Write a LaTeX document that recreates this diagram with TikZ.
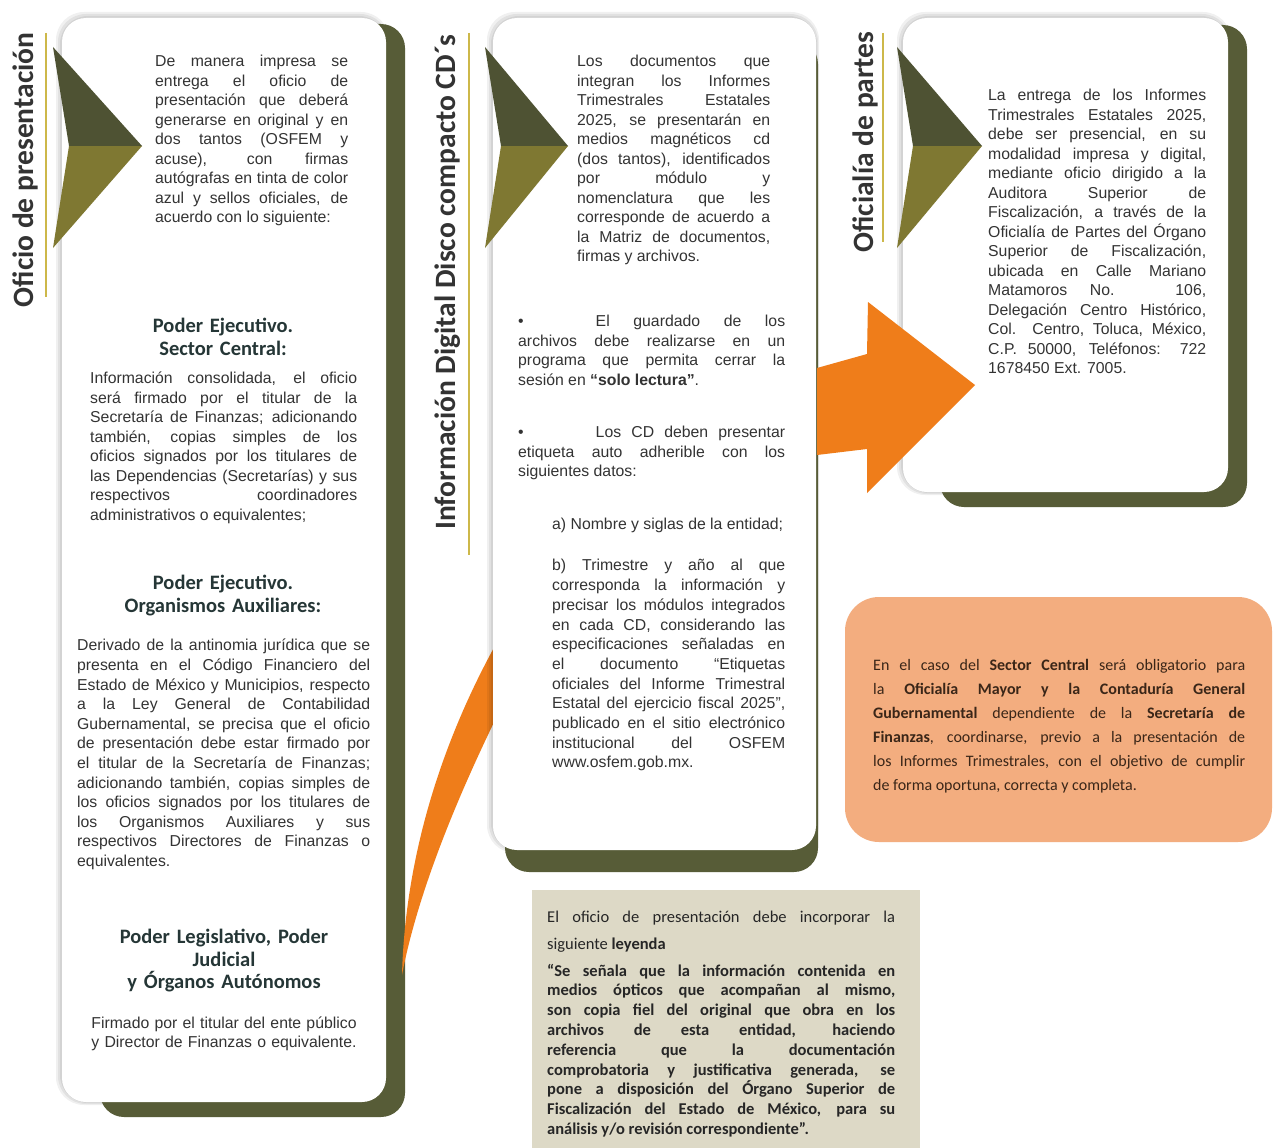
\documentclass[tikz,border=0pt]{standalone}
\usepackage{fontspec}
\setmainfont{Liberation Sans}
\newfontfamily\headfont{Carlito}
\usetikzlibrary{positioning}
\definecolor{o1}{HTML}{4E5233}
\definecolor{o2}{HTML}{7F7832}
\definecolor{o3}{HTML}{575C37}
\definecolor{y1}{HTML}{CDB84A}
\definecolor{or}{HTML}{EF7D1A}
\definecolor{sa}{HTML}{F3AD7F}
\definecolor{tn}{HTML}{DDD9C6}
\definecolor{g}{HTML}{333333}
\definecolor{hd}{HTML}{253636}
\definecolor{br}{HTML}{3A2618}
\tolerance=10000
\hyphenpenalty=10000
\hbadness=10000

\begin{document}
\begin{tikzpicture}[x=1pt, y=-1pt,
	cardtext/.style={font=\fontsize{15.8}{19.5}\selectfont, text=g, align=justify,
		inner sep=0pt, anchor=north west, execute at begin node=\strut},
	cardhead/.style={font=\headfont\bfseries\fontsize{20.5}{22.5}\selectfont, text=hd,
		align=center, inner sep=0pt, anchor=north, text width=300, execute at begin node=\strut},
	sidetitle/.style={font=\headfont\bfseries\fontsize{29.5}{32}\selectfont, text=g,
		rotate=90, inner sep=0pt, anchor=base},
	halo/.style={fill=black, opacity=0.06, rounded corners=28},
	cardback/.style={fill=o3, rounded corners=24},
	card/.style={fill=white, rounded corners=24},
	goldline/.style={y1, line width=1.6pt},
]
			\useasboundingbox[fill=white] (0,0) rectangle (1275,1148);

			% Draw left card (shadow, back, face)
			\foreach \d in {2,4,6} {
					\fill[halo] (62-\d,18-\d) rectangle (386+\d/2,1102+\d/2);
				}
			\fill[cardback] (100,24) rectangle (405,1117);
			\fill[card] (62,18) rectangle (386,1102);

			% Curved orange band between cards
			\fill[or] (402,975) .. controls (405,860) and (440,740) .. (505,628)
				-- (505,700) .. controls (470,770) and (420,880) .. (402,975) -- cycle;

			% Draw middle card
			\foreach \d in {2,4,6} {
					\fill[halo] (493-\d,18-\d) rectangle (816+\d/2,850+\d/2);
				}
			\fill[cardback] (505,40) rectangle (818,872);
			\fill[card] (493,18) rectangle (816,850);

			% Draw right card
			\foreach \d in {2,4,6} {
					\fill[halo] (903-\d,18-\d) rectangle (1228+\d/2,492+\d/2);
				}
			\fill[cardback] (940,25) rectangle (1247,507);
			\fill[card] (903,18) rectangle (1228,492);

			% Big orange arrow
			\fill[or] (817,368) -- (867,354) -- (868,302) -- (975,385) -- (867,493)
				-- (867,449) -- (817,455) -- cycle;

			% Chevron markers
			\foreach \x/\t in {53/89, 485/83, 897/85} {
					\fill[o1] (\x,47) -- (\x+\t,146) -- (\x+16,146) -- cycle;
					\fill[o2] (\x+16,146) -- (\x+\t,146) -- (\x,248) -- cycle;
				}

			% Gold rules beside the titles
			\draw[goldline] (46,33) -- (46,297);
			\draw[goldline] (469,33) -- (469,555);
			\draw[goldline] (883,33) -- (883,242);

			% Side titles
			\node[sidetitle] (ofTitle) at (33,170) {Oficio de presentación};
			\node[sidetitle] (cdTitle) at (455,282) {Información Digital Disco compacto CD´s};
			\node[sidetitle] (opTitle) at (873,142) {Oficialía de partes};

			% Left card texts
			\node[cardtext, text width=193] (ofIntro) at (155,53) {De manera impresa se\linebreak
				entrega el oficio de\linebreak presentación que deberá\linebreak
				generarse en original y en\linebreak dos tantos (OSFEM y\linebreak
				acuse), con firmas\linebreak autógrafas en tinta de color\linebreak
				azul y sellos oficiales, de\linebreak acuerdo con lo siguiente:};

			\node[cardhead] (scHead) at (223,317) {Poder Ejecutivo.\\ Sector Central:};
			\node[cardtext, text width=267] (scText) at (90,370) {Información consolidada, el oficio\linebreak
				será firmado por el titular de la\linebreak Secretaría de Finanzas; adicionando\linebreak
				también, copias simples de los\linebreak oficios signados por los titulares de\linebreak
				las Dependencias (Secretarías) y sus\linebreak respectivos coordinadores\linebreak
				administrativos o equivalentes;};

			\node[cardhead, font=\headfont\bfseries\fontsize{20.5}{23}\selectfont] (oaHead) at (223,573)
				{Poder Ejecutivo.\\ Organismos Auxiliares:};
			\node[cardtext, text width=293, font=\fontsize{15.8}{19.6}\selectfont] (oaText) at (77,637)
				{Derivado de la antinomia jurídica que se\linebreak
				presenta en el Código Financiero del\linebreak Estado de México y Municipios, respecto\linebreak
				a la Ley General de Contabilidad\linebreak Gubernamental, se precisa que el oficio\linebreak
				de presentación debe estar firmado por\linebreak el titular de la Secretaría de Finanzas;\linebreak
				adicionando también, copias simples de\linebreak los oficios signados por los titulares de\linebreak
				los Organismos Auxiliares y sus\linebreak respectivos Directores de Finanzas o\linebreak
				equivalentes.};

			\node[cardhead] (plHead) at (224,928) {Poder Legislativo, Poder\\ Judicial\\ y Órganos Autónomos};
			\node[cardtext, align=center, anchor=north, text width=300, font=\fontsize{15.8}{19}\selectfont]
				(plText) at (224,1015) {Firmado por el titular del ente público\\ y Director de Finanzas o equivalente.};

			% Middle card texts
			\node[cardtext, text width=193] (cdIntro) at (577,53) {Los documentos que\linebreak
				integran los Informes\linebreak Trimestrales Estatales\linebreak
				2025, se presentarán en\linebreak medios magnéticos cd\linebreak
				(dos tantos), identificados\linebreak por módulo y\linebreak
				nomenclatura que les\linebreak corresponde de acuerdo a\linebreak
				la Matriz de documentos,\linebreak firmas y archivos.};

			\node[cardtext, text width=267] (cdSave) at (518,313) {•\hspace{72pt}El guardado de los\linebreak
				archivos debe realizarse en un\linebreak programa que permita cerrar la\linebreak
				sesión en \textbf{“solo lectura”}.};
			\node[cardtext, text width=267] (cdLabel) at (518,424) {•\hspace{72pt}Los CD deben presentar\linebreak
				etiqueta auto adherible con los\linebreak siguientes datos:};

			\node[cardtext, text width=233] (cdA) at (552,516) {a) Nombre y siglas de la entidad;};
			\node[cardtext, text width=233, font=\fontsize{15.8}{19.7}\selectfont] (cdB) at (552,557)
				{b) Trimestre y año al que\linebreak
				corresponda la información y\linebreak precisar los módulos integrados\linebreak
				en cada CD, considerando las\linebreak especificaciones señaladas en\linebreak
				el documento “Etiquetas\linebreak oficiales del Informe Trimestral\linebreak
				Estatal del ejercicio fiscal 2025”,\linebreak publicado en el sitio electrónico\linebreak
				institucional del OSFEM\linebreak www.osfem.gob.mx.};

			% Right card text
			\node[cardtext, text width=218] (opText) at (988,87) {La entrega de los Informes\linebreak
				Trimestrales Estatales 2025,\linebreak debe ser presencial, en su\linebreak
				modalidad impresa y digital,\linebreak mediante oficio dirigido a la\linebreak
				Auditora Superior de\linebreak Fiscalización, a través de la\linebreak
				Oficialía de Partes del Órgano\linebreak Superior de Fiscalización,\linebreak
				ubicada en Calle Mariano\linebreak Matamoros No. 106,\linebreak
				Delegación Centro Histórico,\linebreak Col. Centro, Toluca, México,\linebreak
				C.P. 50000, Teléfonos: 722\linebreak 1678450 Ext. 7005.};

			% Salmon note
			\fill[sa, rounded corners=34] (845,597) rectangle (1272,842);
			\node[cardtext, text=br, text width=372, font=\headfont\fontsize{16}{24}\selectfont]
				(scNote) at (873,653) {En el caso del \textbf{Sector Central} será obligatorio para\linebreak
				la \textbf{Oficialía Mayor y la Contaduría General}\linebreak
				\textbf{Gubernamental} dependiente de la \textbf{Secretaría de}\linebreak
				\textbf{Finanzas}, coordinarse, previo a la presentación de\linebreak
				los Informes Trimestrales, con el objetivo de cumplir\linebreak
				de forma oportuna, correcta y completa.};

			% Legend box
			\fill[tn] (532,890) rectangle (920,1148);
			\node[cardtext, text=black!85, text width=348, font=\headfont\fontsize{16.5}{27}\selectfont]
				(leyIntro) at (547,903) {El oficio de presentación debe incorporar la\linebreak
				siguiente \textbf{leyenda}};
			\node[cardtext, text=black!85, text width=348, font=\headfont\bfseries\fontsize{16.5}{19.8}\selectfont]
				(leyText) at (547,962) {“Se señala que la información contenida en\linebreak
				medios ópticos que acompañan al mismo,\linebreak
				son copia fiel del original que obra en los\linebreak
				archivos de esta entidad, haciendo\linebreak
				referencia que la documentación\linebreak
				comprobatoria y justificativa generada, se\linebreak
				pone a disposición del Órgano Superior de\linebreak
				Fiscalización del Estado de México, para su\linebreak
				análisis y/o revisión correspondiente”.};
		\end{tikzpicture}
\end{document}
